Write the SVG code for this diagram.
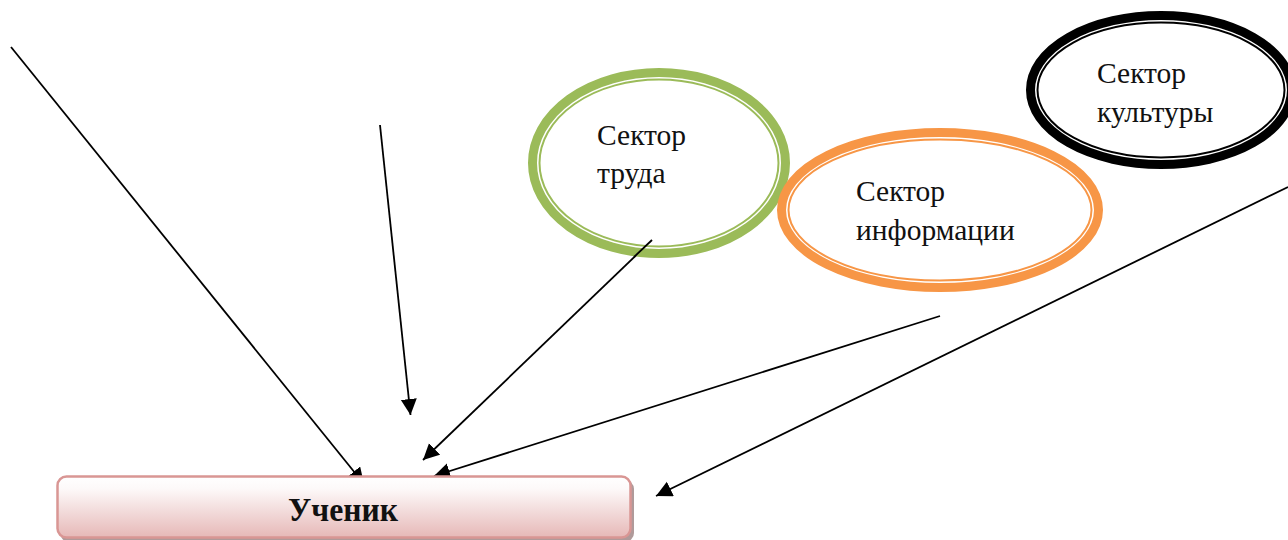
<svg xmlns="http://www.w3.org/2000/svg" width="1288" height="540" viewBox="0 0 1288 540">
<style>
.t{font-family:"Liberation Serif","Times New Roman",serif;font-size:29.500px;fill:#111}
.b{font-family:"Liberation Serif","Times New Roman",serif;font-size:34px;font-weight:bold;fill:#111}
.c{stroke:#000;stroke-width:1.800;fill:none;marker-end:url(#a)}
.l{stroke:#000;stroke-width:1.800}
.o{fill:#fff;stroke-width:9}
.i{fill:#fff;stroke-width:2}
</style>
<defs>
<marker id="a" markerUnits="userSpaceOnUse" markerWidth="20" markerHeight="18" refX="16" refY="8" orient="auto"><path d="M0 0L16 8L0 16Z" fill="#000"/></marker>
<linearGradient id="g" x1="0" y1="0" x2="0" y2="1"><stop offset="0" stop-color="#fff"/><stop offset="0.2" stop-color="#fdf9f9"/><stop offset="1" stop-color="#e6b8b7"/></linearGradient>
</defs>
<g id="connectors">
<line class="c" x1="11" y1="47" x2="364" y2="484"/>
<line class="c" x1="380" y1="125" x2="410.500" y2="415"/>
<line class="c" x1="652" y1="240" x2="423" y2="460"/>
<line class="c" x1="940" y1="316" x2="434" y2="476"/>
<line class="c" x1="1288" y1="187" x2="656" y2="496"/>
</g>
<g id="node-trud">
<ellipse class="o" cx="659" cy="163" rx="126.500" ry="90.500" stroke="#9bbb59"/>
<ellipse class="i" cx="659" cy="163" rx="119.500" ry="83.500" stroke="#9bbb59"/>
<text class="t" x="597" y="145">Сектор</text>
<text class="t" x="597" y="183">труда</text>
</g>
<line class="l" x1="652" y1="240" x2="634" y2="257"/>
<g id="node-info">
<ellipse class="o" cx="940" cy="210" rx="158.500" ry="77.500" stroke="#f79646"/>
<ellipse class="i" cx="940" cy="210" rx="151.500" ry="70.500" stroke="#f79646"/>
<text class="t" x="856" y="201">Сектор</text>
<text class="t" x="856" y="240">информации</text>
</g>
<g id="node-kultura">
<ellipse class="o" cx="1161" cy="90" rx="130.500" ry="74.500" stroke="#000"/>
<ellipse class="i" cx="1161" cy="90" rx="123.500" ry="67.500" stroke="#000"/>
<text class="t" x="1097" y="83">Сектор</text>
<text class="t" x="1097" y="122">культуры</text>
</g>
<g id="node-uchenik">
<rect x="60" y="480" width="574" height="62" rx="9" fill="#b09a9a"/>
<rect x="57.500" y="476.500" width="573" height="61" rx="9" fill="url(#g)" stroke="#d99694" stroke-width="2.500"/>
<text class="b" x="288" y="521" textLength="110" lengthAdjust="spacingAndGlyphs">Ученик</text>
</g>
</svg>
